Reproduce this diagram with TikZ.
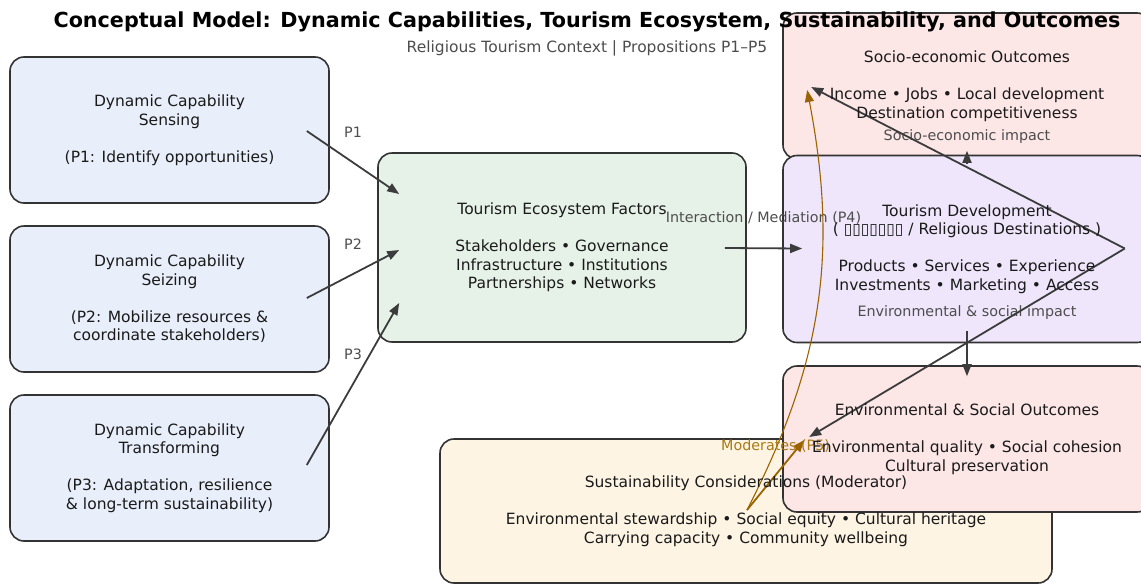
\documentclass[tikz,border=0pt]{standalone}
\usepackage{fontspec}
\setmainfont{DejaVu Sans}
\usetikzlibrary{arrows.meta}
\definecolor{edge}{HTML}{333333}
\definecolor{ink}{HTML}{1A1A1A}
\definecolor{arrow}{HTML}{3C3C3C}
\definecolor{tagc}{HTML}{4D4D4D}
\definecolor{modc}{HTML}{9A6300}
\definecolor{modtxt}{HTML}{A77A14}
\definecolor{capfill}{HTML}{E8EFFB}
\definecolor{ecofill}{HTML}{E6F2E8}
\definecolor{devfill}{HTML}{EFE6FB}
\definecolor{outfill}{HTML}{FCE6E6}
\definecolor{sustfill}{HTML}{FDF4E4}
\begin{document}
\begin{tikzpicture}[x=1pt,y=-1pt,>={Triangle[length=12pt,width=9pt]},line join=round,
	box/.style={draw=edge,line width=1.6pt,rounded corners=14pt,inner sep=0pt},
	capbox/.style={box,fill=capfill,minimum width=319pt,minimum height=146pt},
	outbox/.style={box,fill=outfill,minimum width=368pt,minimum height=146pt},
	txt/.style={align=center,text=ink,inner sep=0pt,font=\fontsize{15.5}{18.5}\selectfont},
	link/.style={->,draw=arrow,line width=1.8pt},
	tag/.style={text=tagc,font=\fontsize{14.3}{16}\selectfont},
	mod/.style={->,draw=modc,line width=1.8pt}]
	\clip (0,0) rectangle (1141,584);
	% boxes first, their texts go on top of everything
	\node[outbox] (socio) at (967,86) {};
	\node[box,fill=devfill,minimum width=368pt,minimum height=187pt] (dev) at (967,249) {};
	\node[box,fill=ecofill,minimum width=368pt,minimum height=189pt] (eco) at (562,247.5) {};
	\node[capbox] (sense) at (169.5,130) {};
	\node[capbox] (seize) at (169.5,299) {};
	\node[capbox] (transf) at (169.5,468) {};
	\node[box,fill=sustfill,minimum width=612pt,minimum height=144pt] (sust) at (746,511) {};
	\node[outbox] (envo) at (967,439) {};
	% propositions
	\draw[link] ([shift={(-23,1)}]sense.east) -- ([shift={(22,-53.5)}]eco.west) node[tag,midway,yshift=30pt]{P1};
	\draw[link] ([shift={(-23,-1)}]seize.east) -- ([shift={(22,2.5)}]eco.west) node[tag,midway,yshift=30pt]{P2};
	\draw[link] ([shift={(-23,-3)}]transf.east) -- ([shift={(22,55.5)}]eco.west) node[tag,midway,yshift=30pt]{P3};
	\draw[link] ([shift={(-22,0.5)}]eco.east) -- ([shift={(20,-0.5)}]dev.west) node[tag,midway,yshift=30pt]{Interaction / Mediation (P4)};
	\draw[link] ([shift={(0,9.5)}]dev.north) -- ([shift={(0,-9)}]socio.south) node[tag,midway,yshift=20.5pt]{Socio-economic impact};
	\draw[link] ([shift={(0,-12.5)}]dev.south) -- ([shift={(0,11)}]envo.north) node[tag,midway,yshift=40.5pt]{Environmental \& social impact};
	\coordinate (apex) at ([shift={(-27,-0.5)}]dev.east);
	\draw[link] (apex) -- ([shift={(29,1)}]socio.west);
	\draw[link] (apex) -- ([shift={(27,-2)}]envo.west);
	% moderator
	\coordinate (root) at ([shift={(1,-1)}]sust.center);
	\draw[mod,line width=1.1pt] (root) to[bend right=19] ([shift={(25,4)}]socio.west);
	\draw[mod] (root) -- ([shift={(22,1)}]envo.west) node[tag,text=modtxt,midway,yshift=29pt]{Moderates (P5)};
	% box texts
	\node[txt] (socio-t) at (socio) {Socio-economic Outcomes\\[18.5pt]Income • Jobs • Local development\\Destination competitiveness};
	\node[txt] (dev-t) at (dev) {Tourism Development\\( ▯▯▯▯▯▯▯ / Religious Destinations )\\[18.5pt]Products • Services • Experience\\Investments • Marketing • Access};
	\node[txt] (eco-t) at (eco) {Tourism Ecosystem Factors\\[18.5pt]Stakeholders • Governance\\Infrastructure • Institutions\\Partnerships • Networks};
	\node[txt] (sense-t) at (sense) {Dynamic Capability\\Sensing\\[18.5pt](P1: Identify opportunities)};
	\node[txt] (seize-t) at (seize) {Dynamic Capability\\Seizing\\[18.5pt](P2: Mobilize resources \&\\coordinate stakeholders)};
	\node[txt] (transf-t) at (transf) {Dynamic Capability\\Transforming\\[18.5pt](P3: Adaptation, resilience\\\& long-term sustainability)};
	\node[txt] (sust-t) at (sust) {Sustainability Considerations (Moderator)\\[18.5pt]Environmental stewardship • Social equity • Cultural heritage\\Carrying capacity • Community wellbeing};
	\node[txt] (envo-t) at (envo) {Environmental \& Social Outcomes\\[18.5pt]Environmental quality • Social cohesion\\Cultural preservation};
	% heading
	\node[font=\bfseries\fontsize{20.7}{24}\selectfont] (title) at (587,22) {Conceptual Model: Dynamic Capabilities, Tourism Ecosystem, Sustainability, and Outcomes};
	\node[tag,font=\fontsize{15.5}{17}\selectfont] (sub) at (587,48) {Religious Tourism Context | Propositions P1–P5};
\end{tikzpicture}
\end{document}
